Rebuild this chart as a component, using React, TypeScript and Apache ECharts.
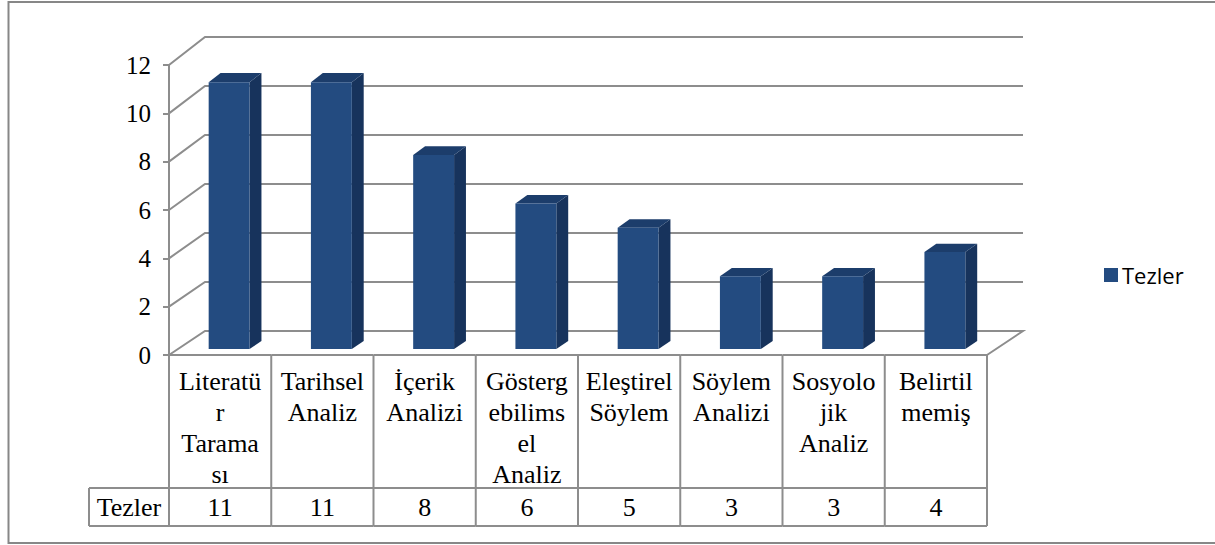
import React, { useEffect, useRef } from "react";
import * as echarts from "echarts";

const categories = [
  "Literatür Taraması",
  "Tarihsel Analiz",
  "İçerik Analizi",
  "Göstergebilimsel Analiz",
  "Eleştirel Söylem",
  "Söylem Analizi",
  "Sosyolojik Analiz",
  "Belirtilmemiş",
];
const categoryLines = [
  "Literatü\nr\nTarama\nsı",
  "Tarihsel\nAnaliz",
  "İçerik\nAnalizi",
  "Gösterg\nebilims\nel\nAnaliz",
  "Eleştirel\nSöylem",
  "Söylem\nAnalizi",
  "Sosyolo\njik\nAnaliz",
  "Belirtil\nmemiş",
];
const seriesName = "Tezler";
const tezlerValues = [11, 11, 8, 6, 5, 3, 3, 4];
const yTicks = [0, 2, 4, 6, 8, 10, 12];

const SERIF = "'Liberation Serif', 'Times New Roman', serif";
const GRID_COLOR = "#8d8d8d";
const DX = 36;
const dyAt = (y0: number, y: number) => -(24 + (y0 - y) * 0.014);
const shift = (x: number, y: number, y0: number, f: number) => [x + DX * f, y + dyAt(y0, y) * f];

export default function App() {
  const ref = useRef<HTMLDivElement>(null);
  useEffect(() => {
    const chart = echarts.init(ref.current!, null, { renderer: "svg" });
    const n = categories.length;
    chart.setOption({
      animation: false,
      backgroundColor: "#fff",
      grid: { left: 169, right: 228, top: 65, bottom: 190 },
      legend: {
        data: [{ name: seriesName, icon: "rect" }],
        left: 1104,
        top: 264,
        padding: 0,
        itemWidth: 14,
        itemHeight: 14,
        itemGap: 4,
        textStyle: { fontFamily: "'Open Sans', sans-serif", fontSize: 22, color: "#000", padding: [0, 0, 0, -1] },
      },
      xAxis: {
        type: "category",
        data: categories,
        axisLine: { show: false },
        axisTick: { show: false },
        axisLabel: { show: false },
        splitLine: { show: false },
      },
      yAxis: {
        type: "value",
        min: 0,
        max: 12,
        interval: 2,
        axisLine: { show: true, lineStyle: { color: GRID_COLOR, width: 2 } },
        axisTick: { show: true, length: 6, lineStyle: { color: GRID_COLOR, width: 2 } },
        axisLabel: { fontFamily: SERIF, fontSize: 25, color: "#000", margin: 18 },
        splitLine: { show: false },
      },
      graphic: [
        {
          type: "rect",
          shape: { x: 8.5, y: 2, width: 1300, height: 541 },
          style: { fill: "none", stroke: "#878787", lineWidth: 2 },
          silent: true,
        },
      ],
      series: [
        {
          type: "custom",
          name: "grid3d",
          clip: false,
          silent: true,
          z: 1,
          data: yTicks.map((v) => [0, v]),
          renderItem: (params: any, api: any) => {
            const v = api.value(1);
            const band = api.size([1, 0])[0];
            const y0 = api.coord([0, 0])[1];
            const pl = api.coord([0, v]);
            const xl = pl[0] - band / 2;
            const xr = api.coord([n - 1, v])[0] + band / 2;
            const y = pl[1];
            const pts: number[][] = [[xl, y], shift(xl, y, y0, 1), shift(xr, y, y0, 1)];
            if (v === 0) pts.push([xr, y]);
            return {
              type: "polyline",
              shape: { points: pts },
              style: { fill: "none", stroke: GRID_COLOR, lineWidth: 2 },
            };
          },
        },
        {
          type: "custom",
          name: seriesName,
          clip: false,
          z: 3,
          itemStyle: { color: "#234B80" },
          data: tezlerValues.map((v, i) => [i, v]),
          renderItem: (params: any, api: any) => {
            const i = api.value(0);
            const v = api.value(1);
            const base = api.coord([i, 0]);
            const top = api.coord([i, v]);
            const band = api.size([1, 0])[0];
            const w = band * 0.4;
            const L = base[0] - w / 2;
            const R = base[0] + w / 2;
            const y0 = base[1];
            const yt = top[1];
            const f1 = 0.25;
            const f2 = 0.58;
            const p = (x: number, y: number, f: number) => shift(x, y, y0, f);
            return {
              type: "group",
              children: [
                {
                  type: "polygon",
                  shape: { points: [p(R, yt, f1), p(R, yt, f2), p(R, y0, f2), p(R, y0, f1)] },
                  style: { fill: "#17335C" },
                },
                {
                  type: "polygon",
                  shape: { points: [p(L, yt, f1), p(L, yt, f2), p(R, yt, f2), p(R, yt, f1)] },
                  style: { fill: "#1C3D6B" },
                },
                {
                  type: "polygon",
                  shape: { points: [p(L, yt, f1), p(R, yt, f1), p(R, y0, f1), p(L, y0, f1)] },
                  style: { fill: "#234B80" },
                },
              ],
            };
          },
        },
        {
          type: "custom",
          name: "table",
          clip: false,
          silent: true,
          z: 2,
          data: tezlerValues.map((v, i) => [i, v]),
          renderItem: (params: any, api: any) => {
            const i = api.value(0);
            const v = api.value(1);
            const c = api.coord([i, 0]);
            const band = api.size([1, 0])[0];
            const xl = c[0] - band / 2;
            const xr = c[0] + band / 2;
            const yTop = c[1];
            const yMid = yTop + 133;
            const yBot = yTop + 171;
            const ls = { stroke: GRID_COLOR, lineWidth: 2 };
            const children: any[] = [
              { type: "line", shape: { x1: xl, y1: yTop, x2: xr, y2: yTop }, style: ls },
              { type: "line", shape: { x1: xl, y1: yMid, x2: xr, y2: yMid }, style: ls },
              { type: "line", shape: { x1: xl, y1: yBot, x2: xr, y2: yBot }, style: ls },
              { type: "line", shape: { x1: xl, y1: yTop, x2: xl, y2: yBot }, style: ls },
              {
                type: "text",
                style: {
                  x: c[0],
                  y: yTop + 11,
                  text: categoryLines[i],
                  fill: "#000",
                  fontSize: 26,
                  fontFamily: SERIF,
                  lineHeight: 31,
                  align: "center",
                  verticalAlign: "top",
                },
              },
              {
                type: "text",
                style: {
                  x: c[0],
                  y: yMid + 19,
                  text: String(v),
                  fill: "#000",
                  fontSize: 26,
                  fontFamily: SERIF,
                  align: "center",
                  verticalAlign: "middle",
                },
              },
            ];
            if (i === n - 1) {
              children.push({ type: "line", shape: { x1: xr, y1: yTop, x2: xr, y2: yBot }, style: ls });
            }
            if (i === 0) {
              const hx = xl - 80;
              children.push(
                { type: "line", shape: { x1: hx, y1: yMid, x2: xl, y2: yMid }, style: ls },
                { type: "line", shape: { x1: hx, y1: yBot, x2: xl, y2: yBot }, style: ls },
                { type: "line", shape: { x1: hx, y1: yMid, x2: hx, y2: yBot }, style: ls },
                {
                  type: "text",
                  style: {
                    x: (hx + xl) / 2,
                    y: yMid + 19,
                    text: seriesName,
                    fill: "#000",
                    fontSize: 26,
                    fontFamily: SERIF,
                    align: "center",
                    verticalAlign: "middle",
                  },
                }
              );
            }
            return { type: "group", children };
          },
        },
      ],
    });
    return () => chart.dispose();
  }, []);
  return (
    <div
      ref={ref}
      style={{ position: "fixed", left: 0, top: 0, width: 1215, height: 545 }}
    />
  );
}
